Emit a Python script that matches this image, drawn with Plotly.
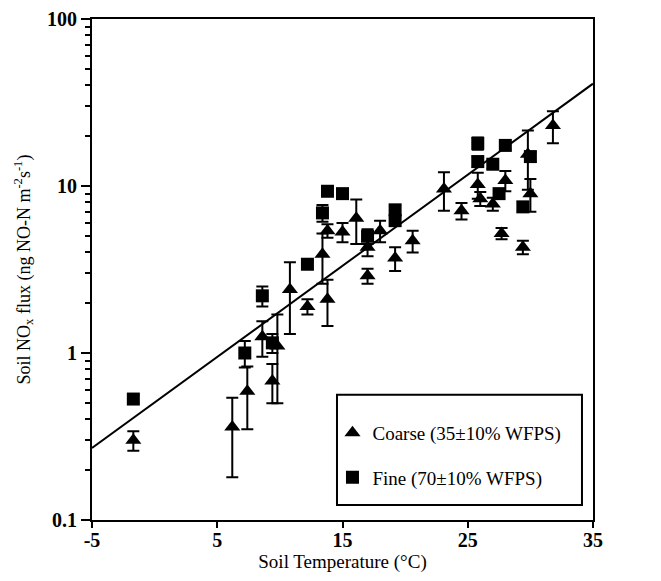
import plotly.graph_objects as go

# ---- data ----
coarse_temp = [-1.7, 6.2, 7.4, 8.6, 9.4, 9.8, 10.8, 12.2, 13.8, 13.4, 13.8, 15.0, 16.1,
               17.0, 17.0, 18.0, 19.2, 20.6, 23.1, 24.5, 25.8, 26.0, 27.0, 27.7, 28.0,
               29.4, 29.8, 30.0, 31.8]
coarse_flux = [0.30, 0.36, 0.59, 1.25, 0.68, 1.1, 2.4, 1.9, 2.1, 3.9, 5.4, 5.3, 6.4,
               2.9, 4.3, 5.4, 3.7, 4.7, 9.6, 7.1, 10.2, 8.4, 7.8, 5.2, 10.8,
               4.3, 15.5, 9.0, 23.0]
coarse_err = [0.04, 0.18, 0.24, 0.3, 0.18, 0.6, 1.1, 0.2, 0.65, 1.3, 0.5, 0.7, 1.9,
              0.3, 0.5, 0.8, 0.6, 0.7, 2.5, 0.8, 1.8, 0.8, 0.7, 0.4, 1.5,
              0.4, 6.0, 2.0, 5.0]

fine_temp = [-1.7, 7.2, 8.6, 9.4, 12.2, 13.4, 13.8, 15.0, 17.0, 19.2, 19.2,
             25.8, 25.8, 27.0, 27.5, 28.0, 29.4, 30.0]
fine_flux = [0.53, 1.0, 2.2, 1.15, 3.4, 6.9, 9.3, 9.0, 5.0, 6.2, 7.2,
             18.0, 14.0, 13.5, 9.0, 17.5, 7.5, 15.0]
fine_err = [0.03, 0.18, 0.3, 0.15, 0.2, 0.8, 0.4, 0.4, 0.5, 0.4, 0.5,
            1.5, 1.0, 0.8, 0.6, 1.0, 0.5, 1.0]

fit_temp = [-5, 35]
fit_flux = [0.27, 41.0]

x_ticks = [-5, 5, 15, 25, 35]
x_tick_text = ["-5", "5", "15", "25", "35"]
y_ticks = [0.1, 1, 10, 100]
y_tick_text = ["0.1", "1", "10", "100"]
y_minor = [m * 10 ** e for e in (-1, 0, 1) for m in range(2, 10)]

FONT = "Liberation Serif"

fig = go.Figure()

fig.add_trace(go.Scatter(
    x=fit_temp, y=fit_flux, mode="lines",
    line=dict(color="black", width=2), showlegend=False, hoverinfo="skip"))

fig.add_trace(go.Scatter(
    x=coarse_temp, y=coarse_flux, mode="markers", name="Coarse (35±10% WFPS)",
    legendgroup="c",
    marker=dict(symbol="triangle-up", size=14, color="black"),
    error_y=dict(type="data", array=coarse_err, color="black", thickness=2, width=6)))

fig.add_trace(go.Scatter(
    x=fine_temp, y=fine_flux, mode="markers", name="Fine (70±10% WFPS)",
    legendgroup="f",
    marker=dict(symbol="square", size=13, color="black"),
    error_y=dict(type="data", array=fine_err, color="black", thickness=2, width=6)))

# legend frame
fig.add_shape(type="rect", xref="paper", yref="paper",
              x0=0.489, x1=0.978, y0=0.03, y1=0.25,
              line=dict(color="black", width=2), fillcolor="white", layer="below")

fig.update_layout(
    width=653, height=573,
    margin=dict(l=84, r=68, t=11, b=61, autoexpand=False),
    paper_bgcolor="white", plot_bgcolor="white",
    font=dict(family=FONT, color="black", size=19),
    legend=dict(x=0.48, y=0.212, xanchor="left", yanchor="top",
                bgcolor="rgba(0,0,0,0)", borderwidth=0,
                font=dict(family=FONT, size=19), tracegroupgap=17,
                traceorder="grouped"),
    xaxis=dict(range=[-5, 35], tickvals=x_ticks, ticktext=x_tick_text,
               ticks="outside", ticklen=6, automargin=False, ticklabelstandoff=-5,
               tickwidth=2, tickcolor="black", showline=True, linewidth=2,
               linecolor="black", mirror=True, showgrid=False, zeroline=False,
               tickfont=dict(family=FONT, size=20, weight="bold"),
               title=dict(text="Soil Temperature (°C)", standoff=3,
                          font=dict(family=FONT, size=19))),
    yaxis=dict(type="log", range=[-1, 2], tickvals=y_ticks, ticktext=y_tick_text,
               ticks="outside", ticklen=9, tickwidth=2, tickcolor="black",
               automargin=False,
               minor=dict(tickvals=y_minor, ticks="outside", ticklen=5,
                          tickwidth=1.5, tickcolor="black"),
               showline=True, linewidth=2, linecolor="black", mirror=True,
               showgrid=False, zeroline=False,
               tickfont=dict(family=FONT, size=20, weight="bold"),
               title=dict(text="Soil NO<sub>x</sub> flux (ng NO-N m<sup>-2</sup>s<sup>-1</sup>)",
                          standoff=12, font=dict(family=FONT, size=18))),
)

fig.write_html("out.html")
